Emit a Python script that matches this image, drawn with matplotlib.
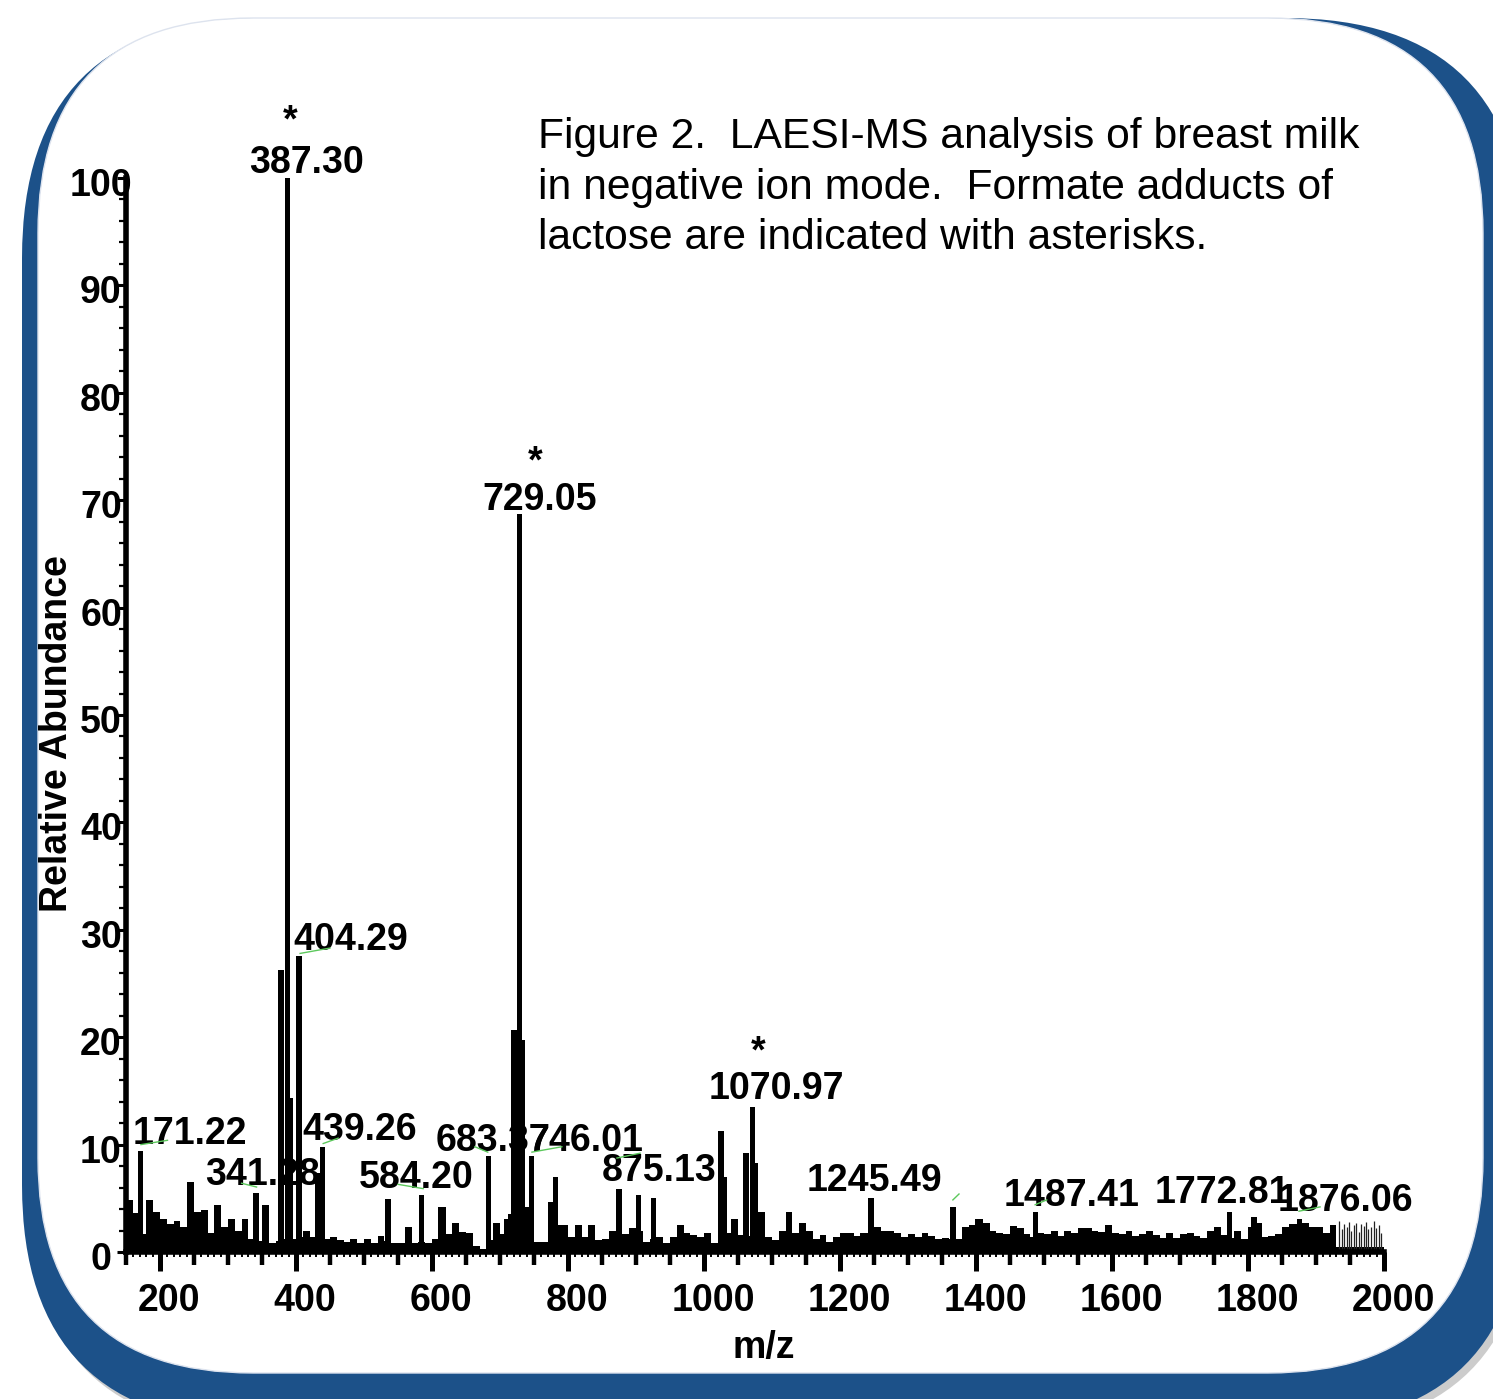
import numpy as np
import matplotlib
matplotlib.use('Agg')
from matplotlib import pyplot as plt
from matplotlib.patches import FancyBboxPatch
from matplotlib.ticker import MultipleLocator
import matplotlib.transforms as mtransforms

# baseline noise, one value per 10 m/z bin starting at 150
base_start = 150
base_h = [4.8, 3.6, 1.7, 4.8, 3.7, 3.1, 2.6, 2.9, 2.3, 6.5,
          3.7, 3.9, 1.8, 4.4, 2.3, 3.1, 2.0, 3.1, 1.2, 1.0,
          4.4, 0.8, 1.0, 1.2, 1.2, 1.4, 2.0, 1.4, 1.2, 1.2,
          1.4, 1.1, 0.9, 1.2, 0.8, 1.2, 0.8, 1.5, 1.0, 0.8,
          0.8, 2.3, 0.8, 0.9, 0.8, 1.2, 4.2, 1.7, 2.7, 1.9,
          1.8, 0.6, 0.3, 1.1, 2.7, 1.7, 3.1, 1.5, 1.2, 1.2,
          0.9, 0.9, 4.7, 2.5, 2.5, 1.4, 2.5, 1.4, 2.5, 1.1,
          1.2, 2.0, 1.7, 1.7, 2.2, 2.0, 0.9, 1.2, 1.4, 0.8,
          1.4, 2.5, 1.8, 1.6, 1.4, 1.8, 0.8, 1.0, 1.8, 3.1,
          1.6, 1.5, 1.8, 3.7, 1.4, 1.1, 2.0, 3.7, 1.8, 2.7,
          2.0, 1.2, 1.6, 0.9, 1.4, 1.8, 1.8, 1.5, 1.8, 1.8,
          2.3, 2.0, 2.0, 1.8, 1.4, 1.7, 1.4, 1.8, 1.5, 1.2,
          1.3, 1.2, 1.2, 2.3, 2.5, 3.1, 2.7, 2.0, 1.8, 1.7,
          2.4, 2.2, 1.7, 1.4, 1.8, 1.7, 2.0, 1.5, 2.0, 1.8,
          2.2, 2.2, 2.0, 1.9, 2.5, 1.8, 1.7, 2.0, 1.5, 1.7,
          2.0, 1.6, 1.3, 1.8, 1.3, 1.7, 1.8, 1.5, 1.3, 2.0,
          2.3, 1.6, 1.3, 2.0, 1.2, 2.3, 2.7, 1.4, 1.5, 1.7,
          2.3, 2.6, 2.6, 2.7, 2.3, 2.3, 1.8, 2.5]
base_mz = np.arange(len(base_h)) * 10 + base_start

# resolved peaks
peak_mz = [171.22, 245, 341.28, 357, 378, 387.30, 392, 404.29, 432, 439.26,
           535, 584.20, 613, 683.37, 710, 716, 720.6, 729.05, 732.5, 740,
           746.01, 775, 782, 875.13, 904, 926, 1025, 1030, 1062, 1070.97,
           1076, 1245.49, 1366, 1403, 1487.41, 1772.81, 1809, 1876.06]
peak_h = [9.4, 6.5, 5.5, 4.4, 26.3, 100, 14.3, 27.6, 7.4, 9.8,
          4.9, 5.3, 4.2, 8.9, 3.1, 3.5, 20.7, 68.7, 19.7, 4.2,
          8.9, 4.7, 7.0, 5.9, 5.3, 5.0, 11.3, 7.0, 9.2, 13.5,
          8.3, 5.0, 4.2, 3.1, 3.7, 3.7, 3.3, 3.1]

# thin spikes at the high-mass end
spike_mz = [1934, 1938, 1941, 1945, 1948, 1952, 1956, 1959, 1963, 1966,
            1970, 1974, 1977, 1981, 1985, 1988, 1992, 1996]
spike_h = [2.9, 2.1, 2.6, 2.3, 2.8, 2.0, 2.5, 2.7, 1.9, 2.6,
           2.4, 2.8, 2.1, 2.3, 2.9, 2.2, 2.5, 1.8]
spike_floor = 0.5

# labels: text, x, baseline y
small_labels = [('171.22', 160, 10.1), ('341.28', 266, 6.2), ('404.29', 396, 28.1),
                ('439.26', 410, 10.4), ('584.20', 492, 6.0), ('683.37', 606, 9.4),
                ('746.01', 742, 9.4), ('875.13', 850, 6.6), ('1245.49', 1151, 5.7),
                ('1487.41', 1440, 4.3), ('1772.81', 1663, 4.6), ('1876.06', 1844, 3.8)]
star_labels = [('387.30', 416, 100.5, 391, 104.3),
               ('729.05', 759, 69.1, 751, 72.6),
               ('1070.97', 1106, 14.2, 1079, 17.6)]
leaders = [((172, 10.0), (211, 10.4)), ((320, 6.4), (342, 6.05)),
           ((406, 27.8), (450, 28.3)), ((440, 10.1), (462, 10.6)),
           ((550, 6.3), (587, 5.9)), ((663, 9.8), (682, 9.3)),
           ((747, 9.3), (791, 9.8)), ((872, 8.75), (906, 9.2)),
           ((1366, 4.85), (1375, 5.4)), ((1487, 4.4), (1504, 4.85)),
           ((1875, 3.8), (1906, 4.2))]

title_lines = ['Figure 2.  LAESI-MS analysis of breast milk',
               'in negative ion mode.  Formate adducts of',
               'lactose are indicated with asterisks.']

W, H = 1493, 1399
blue = '#1c5189'
font = 'Liberation Sans'
fs = 27

fig = plt.figure(figsize=(W / 100, H / 100), dpi=100)
fig.patch.set_facecolor('white')

# rounded frame (pixel coordinates)
ident = mtransforms.IdentityTransform()
shadow = FancyBboxPatch((27, -32), 1503, 1405, boxstyle='round,pad=0,rounding_size=240',
                        transform=ident, facecolor='#9a9a9a', edgecolor='none',
                        alpha=0.5, zorder=-4)
outer = FancyBboxPatch((22, -26), 1503, 1407, boxstyle='round,pad=0,rounding_size=240',
                       transform=ident, facecolor=blue, edgecolor='none', zorder=-3)
inner = FancyBboxPatch((38, 26), 1445, 1355, boxstyle='round,pad=0,rounding_size=215',
                       transform=ident, facecolor='white', edgecolor='#dde3ee',
                       linewidth=1, zorder=-2)
for p in (shadow, outer, inner):
    fig.add_artist(p)

ax = fig.add_axes([126 / W, 1 - 1252 / H, (1384 - 126) / W, (1252 - 178) / H])
ax.set_facecolor('none')

ax.bar(base_mz, base_h, width=10, align='edge', color='black', linewidth=0, zorder=2)
ax.bar(peak_mz, peak_h, width=8, color='black', linewidth=0, zorder=3)
ax.bar([1930], [spike_floor], width=70, align='edge', color='black', linewidth=0, zorder=2)
ax.vlines(spike_mz, 0, spike_h, colors='#222222', linewidth=0.9, zorder=2)

for txt, x, y in small_labels:
    ax.text(x, y, txt, ha='left', va='baseline', fontsize=fs, fontweight='bold',
            family=font, zorder=1, clip_on=False)
for txt, x, y, sx, sy in star_labels:
    ax.text(x, y, txt, ha='center', va='baseline', fontsize=fs, fontweight='bold',
            family=font, zorder=1, clip_on=False)
    ax.text(sx, sy, '*', ha='center', va='baseline', fontsize=fs, fontweight='bold',
            family=font, zorder=1, clip_on=False)
for (x0, y0), (x1, y1) in leaders:
    ax.plot([x0, x1], [y0, y1], color='#5cc85c', linewidth=1, zorder=1, clip_on=False)

ax.set_xlim(150, 2000)
ax.set_ylim(0, 100)
for s in ('top', 'right'):
    ax.spines[s].set_visible(False)
for s in ('left', 'bottom'):
    ax.spines[s].set_linewidth(4)

ax.xaxis.set_major_locator(MultipleLocator(200))
ax.xaxis.set_minor_locator(MultipleLocator(50))
ax.yaxis.set_major_locator(MultipleLocator(10))
ax.yaxis.set_minor_locator(MultipleLocator(2))
ax.tick_params(axis='x', which='major', length=14, width=3.6, pad=8, labelsize=fs)
ax.tick_params(axis='x', which='minor', length=9, width=3.2)
ax.tick_params(axis='y', which='major', length=6.5, width=2.2, pad=11.5, labelsize=fs)
ax.tick_params(axis='y', which='minor', length=5, width=1.6)

sec = ax.secondary_xaxis('bottom')
sec.xaxis.set_major_locator(MultipleLocator(10))
sec.tick_params(length=3.5, width=1.4, labelbottom=False)
sec.spines['bottom'].set_visible(False)

shift_x = mtransforms.ScaledTranslation(9 / 100, 0, fig.dpi_scale_trans)
for lab in ax.get_xticklabels():
    lab.set_fontweight('bold')
    lab.set_family(font)
    lab.set_transform(lab.get_transform() + shift_x)
shift_y = mtransforms.ScaledTranslation(0, -4 / 100, fig.dpi_scale_trans)
for lab in ax.get_yticklabels():
    lab.set_fontweight('bold')
    lab.set_family(font)
    lab.set_horizontalalignment('center')
    lab.set_transform(lab.get_transform() + shift_y)

fig.text(57 / W, 1 - 734 / H, 'Relative Abundance', rotation=90, ha='center', va='center',
         fontsize=fs, fontweight='bold', family=font)
fig.text(764 / W, 1 - 1348 / H, 'm/z', ha='center', va='center',
         fontsize=fs, fontweight='bold', family=font)

for i, line in enumerate(title_lines):
    fig.text(538 / W, 1 - (148 + 50.5 * i) / H, line, ha='left', va='baseline',
             fontsize=30.7, family=font)

fig.savefig('out.png', dpi=100)
